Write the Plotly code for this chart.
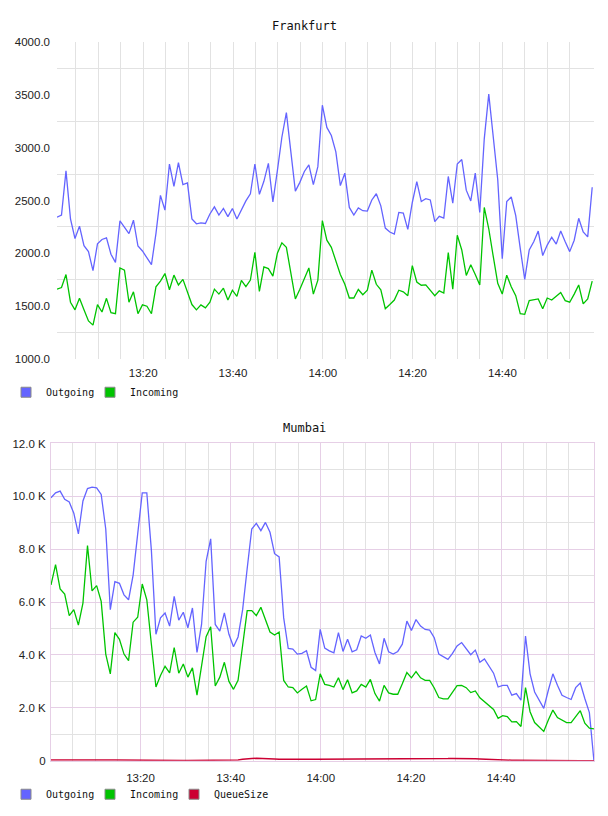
import plotly.graph_objects as go
import pandas as pd

# ---------------- data ----------------
fra_outgoing = [
    2342, 2363, 2782, 2326, 2140, 2258, 2072, 2016, 1836, 2090,
    2131, 2146, 1991, 1914, 2308, 2249, 2187, 2314, 2069, 2022,
    1954, 1892, 2187, 2549, 2410, 2847, 2636, 2859, 2652, 2667,
    2326, 2280, 2289, 2283, 2373, 2441, 2363, 2425, 2348, 2425,
    2326, 2410, 2497, 2565, 2847, 2559, 2683, 2853, 2487, 2785,
    3101, 3334, 2946, 2590, 2673, 2776, 2838, 2652, 2822,
    3405, 3194, 3117, 2962, 2642, 2760, 2435, 2363, 2431, 2404,
    2401, 2506, 2565, 2450, 2239, 2202, 2183, 2388, 2382, 2227,
    2482, 2680, 2491, 2518, 2506, 2301, 2351, 2335, 2729, 2475,
    2847, 2890, 2599, 2497, 2760, 2388, 3086, 3510, 3101, 2698,
    1948, 2491, 2534, 2357, 2047, 1753, 2032, 2109, 2211, 1979,
    2078, 2152, 2087, 2211, 2109, 2016, 2124, 2332, 2202, 2156,
    2627,
]
fra_incoming = [
    1660, 1675, 1799, 1536, 1464, 1573, 1464, 1359, 1319, 1514,
    1443, 1573, 1437, 1427, 1861, 1840, 1536, 1635, 1427, 1511,
    1498, 1427, 1682, 1737, 1808, 1654, 1793, 1700, 1753, 1629,
    1514, 1464, 1511, 1483, 1536, 1660, 1613, 1669, 1557, 1650,
    1592, 1743, 1685, 1746, 2010, 1638, 1871, 1855, 1783, 2001,
    2100, 2057, 1815, 1567, 1660, 1753, 1861, 1613, 1746,
    2311, 2125, 2057, 1924, 1799, 1706, 1576, 1576, 1657, 1607,
    1650, 1840, 1706, 1654, 1474, 1514, 1557, 1650, 1635, 1598,
    1883, 1728, 1697, 1700, 1650, 1598, 1644, 1623, 2007, 1660,
    2171, 2032, 1790, 1892, 1799, 1700, 2435, 2233, 1970, 1716,
    1613, 1793, 1682, 1598, 1427, 1421, 1551, 1561, 1567, 1474,
    1576, 1557, 1589, 1629, 1551, 1536, 1613, 1700, 1520, 1567,
    1737,
]

mum_outgoing = [
    9948, 10134, 10197, 9885, 9786, 9362, 8578, 9823, 10296, 10346,
    10321, 10072, 8765, 5715, 6773, 6711, 6275, 6088, 7022, 8703,
    10134, 10134, 7956, 4781, 5403, 5590, 5092, 6213, 5316, 5615,
    5030, 5777, 4096, 5154, 7545, 8391, 5154, 4905, 5590, 4781,
    4308, 4681, 5715, 7271, 8765, 8976, 8703, 9014, 8640, 7831,
    7707, 5403, 4245, 4221, 4034, 4059, 4158, 3536, 3411,
    4967, 4258, 4158, 4084, 4843, 4133, 4594, 4121, 4196, 4719,
    4631, 4756, 4096, 3660, 4631, 4121, 4034, 4133, 4407, 5279,
    4930, 5341, 5092, 4967, 4943, 4656, 4034, 3934, 3835, 4059,
    4345, 4470, 4245, 4009, 4183, 3722, 3847, 3561, 3312, 2789,
    2851, 2851, 2478, 2540, 2291, 4719, 3287, 2602, 2291, 1980,
    2665, 3287, 2851, 2478, 2391, 2316, 2764, 2938, 2353, 1818,
    0,
]
mum_incoming = [
    6648, 7420, 6499, 6300, 5490, 5715, 5129, 5964, 8142, 6424,
    6623, 6026, 4034, 3287, 4843, 4594, 4034, 3785, 5241, 5428,
    6686, 6088, 4407, 2789, 3225, 3573, 3324, 4283, 3312, 3660,
    3162, 3511, 2478, 3536, 4694, 5067, 2826, 3162, 3723, 3000,
    2702, 3038, 4470, 5677, 5677, 5490, 5802, 5316, 4868, 4756,
    4868, 3038, 2789, 2764, 2565, 2702, 2826, 2266, 2316,
    3287, 2888, 2851, 2789, 3137, 2689, 3063, 2565, 2640, 2888,
    2789, 3075, 2540, 2253, 2851, 2565, 2515, 2515, 2913, 3337,
    3137, 3374, 3137, 3038, 3038, 2751, 2390, 2341, 2341, 2602,
    2839, 2851, 2764, 2577, 2640, 2378, 2229, 2079, 1942, 1606,
    1706, 1668, 1469, 1482, 1295, 2764, 1855, 1444, 1270, 1108,
    1544, 1917, 1631, 1544, 1444, 1444, 1668, 1892, 1419, 1233,
    1208,
]
mum_queuesize = [
    30, 32, 35, 35, 38, 35, 40, 42, 45, 45, 40, 38, 35, 30, 28,
    25, 20, 18, 15, 15, 12, 12, 15, 15, 12, 10, 10, 10, 8, 8, 8,
    8, 8, 10, 10, 10, 12, 12, 15, 20, 25, 30,
    60, 80, 88, 90, 90, 88, 85,
    70, 60, 55, 50, 50, 50, 50, 52, 52, 55, 55,
    55, 55, 55, 56, 56, 56, 57, 57, 57, 58, 58, 58, 58, 58, 59, 59,
    59, 59, 60, 60, 60, 60, 60, 62, 64, 66,
    70, 80, 85, 88, 88, 85, 80, 75,
    70, 60, 50, 40, 35, 30, 25, 20, 18, 15, 12, 10,
    8, 8, 6, 6, 5, 5, 4, 4, 3, 3, 2, 2, 2, 0,
]

day = "2024-01-01 "
fra_start, fra_step, fra_range = "13:00:48", "60100ms", ["13:00:48", "15:00:24"]
mum_start, mum_step, mum_range = "13:00:08", "60750ms", ["13:00:08", "15:00:38"]
time_ticks = ["13:20", "13:40", "14:00", "14:20", "14:40"]

fra_y_ticks = [1000, 1500, 2000, 2500, 3000, 3500, 4000]
mum_y_ticks = [0, 2000, 4000, 6000, 8000, 10000, 12000]
mum_y_labels = ["0", "2.0 K", "4.0 K", "6.0 K", "8.0 K", "10.0 K", "12.0 K"]

# ---------------- derived ----------------
fra_t = pd.date_range(day + fra_start, periods=len(fra_outgoing), freq=fra_step)
mum_t = pd.date_range(day + mum_start, periods=len(mum_outgoing), freq=mum_step)
tickvals = [pd.Timestamp(day + t) for t in time_ticks]
minor_t = list(pd.date_range(day + "13:05", day + "14:55", freq="5min"))

BLUE = "#6464ff"
GREEN = "#00c400"
RED = "#cc0033"
GRID = "#e2e2e2"
PINK = "#e6cfe6"
TICKFONT = dict(family="Liberation Sans, Arial, sans-serif", size=11.5, color="#222")
MONO = "DejaVu Sans Mono, monospace"

W, H = 608, 816
def px_dom(a, b, total):
    return [a / total, b / total]

fig = go.Figure()

# Frankfurt
fig.add_trace(go.Scatter(x=fra_t, y=fra_outgoing, mode="lines", line=dict(color=BLUE, width=1.3),
                         name="Outgoing", showlegend=False, xaxis="x", yaxis="y"))
fig.add_trace(go.Scatter(x=fra_t, y=fra_incoming, mode="lines", line=dict(color=GREEN, width=1.3),
                         name="Incoming", showlegend=False, xaxis="x", yaxis="y"))
# Mumbai
fig.add_trace(go.Scatter(x=mum_t, y=mum_outgoing, mode="lines", line=dict(color=BLUE, width=1.3),
                         name="Outgoing", showlegend=False, xaxis="x2", yaxis="y2"))
fig.add_trace(go.Scatter(x=mum_t, y=mum_incoming, mode="lines", line=dict(color=GREEN, width=1.3),
                         name="Incoming", showlegend=False, xaxis="x2", yaxis="y2"))
fig.add_trace(go.Scatter(x=mum_t, y=mum_queuesize, mode="lines", line=dict(color=RED, width=1.5),
                         name="QueueSize", showlegend=False, xaxis="x2", yaxis="y2"))

# legend swatches (last, invisible entry only reserves room so the final label is not clipped)
for nm, col, lg, ax, op in [("Outgoing", BLUE, "legend", ("x", "y"), 1),
                            ("Incoming", GREEN, "legend", ("x", "y"), 1),
                            (" ", "white", "legend", ("x", "y"), 0),
                            ("Outgoing", BLUE, "legend2", ("x2", "y2"), 1),
                            ("Incoming", GREEN, "legend2", ("x2", "y2"), 1),
                            ("QueueSize", RED, "legend2", ("x2", "y2"), 1),
                            (" ", "white", "legend2", ("x2", "y2"), 0)]:
    fig.add_trace(go.Scatter(x=[None], y=[None], mode="markers", name=nm, legend=lg,
                             marker=dict(symbol="square", size=10, color=col, opacity=op,
                                         line=dict(color="#8a8a8a", width=1 if op else 0)),
                             xaxis=ax[0], yaxis=ax[1], hoverinfo="skip"))

LEGEND_COMMON = dict(orientation="h", x=6 / W, xanchor="left", yanchor="middle",
                     font=dict(family=MONO, size=10, color="#111"), itemclick=False,
                     bgcolor="rgba(0,0,0,0)", tracegroupgap=0,
                     entrywidth=39, entrywidthmode="pixels")

fig.update_layout(
    width=W, height=H,
    margin=dict(l=0, r=0, t=0, b=0),
    paper_bgcolor="white", plot_bgcolor="white",
    xaxis=dict(domain=px_dom(57, 594, W), anchor="y", type="date",
               range=[day + fra_range[0], day + fra_range[1]],
               tickmode="array", tickvals=tickvals, ticktext=time_ticks,
               showgrid=True, gridcolor=GRID, gridwidth=1, zeroline=False, showline=False,
               ticks="", tickfont=TICKFONT, ticklabelstandoff=6,
               minor=dict(tickvals=minor_t, showgrid=True, gridcolor=GRID, gridwidth=1, ticks="")),
    yaxis=dict(domain=[1 - 358 / H, 1 - 37 / H], anchor="x", range=[1000, 4000],
               tickmode="array", tickvals=fra_y_ticks, tickformat=".1f",
               showgrid=False, zeroline=False, showline=False, ticks="",
               tickfont=TICKFONT, ticklabelstandoff=6,
               minor=dict(tickvals=[1250, 1750, 2250, 2750, 3250, 3750], showgrid=True,
                          gridcolor=GRID, gridwidth=1, ticks="")),
    xaxis2=dict(domain=px_dom(51, 594, W), anchor="y2", type="date",
                range=[day + mum_range[0], day + mum_range[1]],
                tickmode="array", tickvals=tickvals, ticktext=time_ticks,
                showgrid=True, gridcolor=PINK, gridwidth=1, zeroline=False,
                showline=True, linecolor=PINK, linewidth=1, mirror=True,
                ticks="", tickfont=TICKFONT, ticklabelstandoff=6,
                minor=dict(tickvals=minor_t, showgrid=True, gridcolor=GRID, gridwidth=1, ticks="")),
    yaxis2=dict(domain=[1 - 766 / H, 1 - 444 / H], anchor="x2", range=[0, 12000],
                tickmode="array", tickvals=mum_y_ticks, ticktext=mum_y_labels,
                showgrid=True, gridcolor=PINK, gridwidth=1, zeroline=False,
                showline=True, linecolor=PINK, linewidth=1, mirror=True, ticks="",
                tickfont=TICKFONT, ticklabelstandoff=2,
                minor=dict(tickvals=[1000, 3000, 5000, 7000, 9000, 11000], showgrid=True,
                           gridcolor=GRID, gridwidth=1, ticks="")),
    legend=dict(LEGEND_COMMON, y=1 - 392 / H),
    legend2=dict(LEGEND_COMMON, y=1 - 800 / H),
    annotations=[
        dict(text="Frankfurt", x=0.5, xref="paper", y=1 - 20 / H, yref="paper",
             showarrow=False, font=dict(family=MONO, size=12, color="#111"), yanchor="middle"),
        dict(text="Mumbai", x=0.5, xref="paper", y=1 - 428 / H, yref="paper",
             showarrow=False, font=dict(family=MONO, size=12, color="#111"), yanchor="middle"),
    ],
)

fig.write_html("out.html")
